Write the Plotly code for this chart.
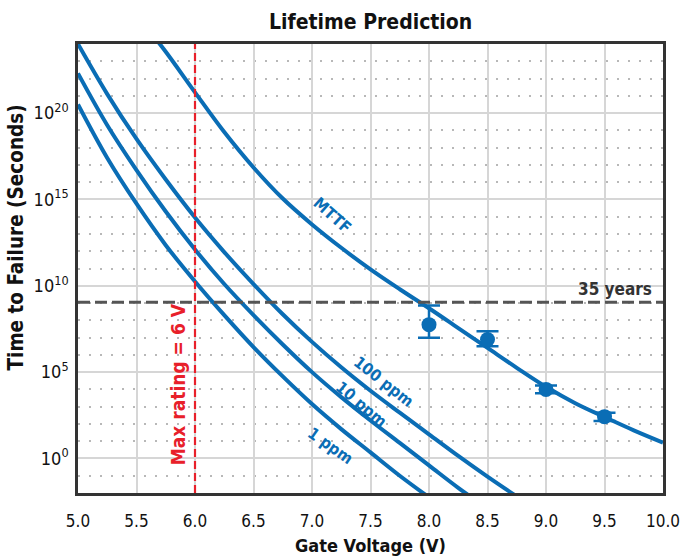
import plotly.graph_objects as go

# ---------------- data (log10 of time-to-failure in seconds) ----------------
mttf_v = [5.60, 5.75, 6.0, 6.25, 6.5, 6.75, 7.0, 7.25, 7.5, 7.75, 8.0, 8.25, 8.5, 8.75, 9.0, 9.25, 9.5, 9.75, 10.0]
mttf_log = [24.85, 23.55, 21.2, 18.9, 16.85, 15.05, 13.55, 12.2, 10.95, 9.8, 8.7, 7.55, 6.4, 5.25, 4.15, 3.2, 2.4, 1.63, 0.92]

ppm_v = [5.0, 5.25, 5.5, 5.75, 6.0, 6.25, 6.5, 6.75, 7.0, 7.25, 7.5, 7.75, 8.0, 8.25, 8.5, 8.75]
ppm100_log = [24.0, 21.1, 18.5, 16.15, 13.95, 11.95, 10.1, 8.35, 6.75, 5.28, 3.92, 2.65, 1.4, 0.15, -1.05, -2.2]
ppm10_log = [22.3, 19.3, 16.7, 14.3, 12.1, 10.1, 8.3, 6.6, 5.0, 3.55, 2.2, 0.9, -0.4, -1.7, -2.9, -4.05]
ppm1_log = [20.5, 17.4, 14.75, 12.35, 10.25, 8.3, 6.45, 4.75, 3.15, 1.7, 0.35, -1.0, -2.25, -3.45, -4.65, -5.85]

meas_v = [8.0, 8.5, 9.0, 9.5]
meas_log = [7.75, 6.89, 4.0, 2.42]
meas_hi_log = [8.86, 7.37, 4.23, 2.65]
meas_lo_log = [6.99, 6.50, 3.77, 2.17]

years_limit = 35
max_rating_v = 6.0

x_ticks = [5.0, 5.5, 6.0, 6.5, 7.0, 7.5, 8.0, 8.5, 9.0, 9.5, 10.0]
y_major_exp = [0, 5, 10, 15, 20]
y_range_exp = [-2, 24]

# ---------------- styling ----------------
BLUE = "#0a6db5"
RED = "#e8202a"
GRAY = "#555555"
FONT = "Liberation Sans Narrow, DejaVu Sans Condensed, Roboto Condensed, Arial Narrow, DejaVu Sans, sans-serif"

def p10(vals):
    return [10.0 ** v for v in vals]

fig = go.Figure()

for v, lg in [(mttf_v, mttf_log), (ppm_v, ppm100_log), (ppm_v, ppm10_log), (ppm_v, ppm1_log)]:
    fig.add_trace(go.Scatter(x=v, y=p10(lg), mode="lines", line=dict(color=BLUE, width=4, shape="spline", smoothing=1.0),
                             hoverinfo="skip", showlegend=False))

meas = p10(meas_log)
hi = [10.0 ** h - m for h, m in zip(meas_hi_log, meas)]
lo = [m - 10.0 ** l for l, m in zip(meas_lo_log, meas)]
fig.add_trace(go.Scatter(x=meas_v, y=meas, mode="markers",
                         marker=dict(color=BLUE, size=15),
                         error_y=dict(type="data", symmetric=False, array=hi, arrayminus=lo,
                                      color=BLUE, thickness=2.5, width=11),
                         showlegend=False))

# 35-year line
secs = years_limit * 365.25 * 86400.0
fig.add_trace(go.Scatter(x=[x_ticks[0], x_ticks[-1]], y=[secs, secs], mode="lines",
                         line=dict(color=GRAY, width=3, dash="12px,5px"), showlegend=False, hoverinfo="skip"))
# max rating line
fig.add_trace(go.Scatter(x=[max_rating_v, max_rating_v], y=[10.0 ** y_range_exp[0], 10.0 ** y_range_exp[1]], mode="lines",
                         line=dict(color=RED, width=2.2, dash="8px,4px"), showlegend=False, hoverinfo="skip"))

minor_vals = [10.0 ** e for e in range(y_range_exp[0], y_range_exp[1] + 1) if e % 5 != 0]

fig.update_layout(
    width=683, height=557,
    margin=dict(l=78, r=20, t=44, b=64, autoexpand=False),
    paper_bgcolor="white", plot_bgcolor="white",
    font=dict(family=FONT, color="#111111"),
    title=dict(text="<b>Lifetime Prediction</b>", x=0.5427, xanchor="center", y=0.962, yanchor="middle",
               font=dict(family=FONT, size=21, color="#111111")),
    xaxis=dict(range=[x_ticks[0], x_ticks[-1]], tickvals=x_ticks, ticktext=[f"{t:.1f}" for t in x_ticks],
               automargin=False,
               showgrid=True, gridcolor="#d6d6d6", gridwidth=1.5,
               showline=True, linecolor="#333333", linewidth=2.5, mirror=True, zeroline=False,
               ticks="", ticklabelstandoff=11,
               tickfont=dict(family=FONT, size=17, color="#111111")),
    yaxis=dict(type="log", range=y_range_exp, automargin=False,
               tickvals=[10.0 ** e for e in y_major_exp],
               ticktext=[f"10<sup>{e}</sup>" for e in y_major_exp],
               showgrid=True, gridcolor="#d6d6d6", gridwidth=1.5,
               minor=dict(tickvals=minor_vals, showgrid=True, gridcolor="#b8b8b8", gridwidth=1.5, griddash="2px,9px"),
               showline=True, linecolor="#333333", linewidth=2.5, mirror=True, zeroline=False,
               ticks="", ticklabelstandoff=3,
               tickfont=dict(family=FONT, size=18, color="#111111")),
)

# axis titles
fig.add_annotation(xref="paper", yref="paper", x=0.5, y=-0.116, yanchor="middle", showarrow=False,
                   text="<b>Gate Voltage (V)</b>", font=dict(family=FONT, size=18, color="#111111"))
fig.add_annotation(xref="paper", yref="paper", x=-0.106, y=0.569, xanchor="center", yanchor="middle", showarrow=False,
                   textangle=-90, text="<b>Time to Failure (Seconds)</b>", font=dict(family=FONT, size=20.5, color="#111111"))

ann_font = dict(family=FONT, size=16, color=BLUE)
fig.add_annotation(x=7.175, y=14.06, text="<b>MTTF</b>", showarrow=False, textangle=42, font=ann_font)
fig.add_annotation(x=7.61, y=4.43, text="<b>100 ppm</b>", showarrow=False, textangle=38, font=ann_font)
fig.add_annotation(x=7.425, y=3.14, text="<b>10 ppm</b>", showarrow=False, textangle=40, font=ann_font)
fig.add_annotation(x=7.154, y=0.73, text="<b>1 ppm</b>", showarrow=False, textangle=35, font=ann_font)
fig.add_annotation(x=9.92, y=9.8, text="<b>35 years</b>", showarrow=False, xanchor="right",
                   font=dict(family=FONT, size=17, color="#333333"))
fig.add_annotation(x=5.855, y=4.3, text="<b>Max rating = 6 V</b>", showarrow=False, textangle=-90,
                   font=dict(family=FONT, size=19, color=RED))

fig.write_html("out.html")
